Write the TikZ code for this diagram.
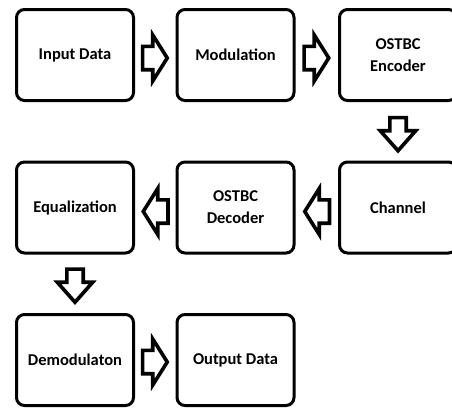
\documentclass[tikz,border=0pt]{standalone}
\usepackage{fontspec}
\setmainfont{Carlito}
\usetikzlibrary{calc}
\tikzset{
  blockbox/.style={draw=black, line width=3pt, rounded corners=8pt, fill=white,
    minimum width=117pt, minimum height=91pt, inner sep=0pt, align=center,
    font=\bfseries\fontsize{16.5}{22}\selectfont},
  arrowline/.style={draw=black, line width=3.6pt, line join=miter, fill=white},
  rarrow/.pic={\path[arrowline] (-12.7,-11.7) -- (-2.5,-11.7) -- (-2.5,-23) -- (12,0) -- (-2.5,23) -- (-2.5,11.7) -- (-12.7,11.7) -- cycle;},
  larrow/.pic={\path[arrowline] (12.7,-11.7) -- (2.5,-11.7) -- (2.5,-23) -- (-12,0) -- (2.5,23) -- (2.5,11.7) -- (12.7,11.7) -- cycle;},
  darrow/.pic={\path[arrowline] (-8.2,-16.7) -- (8.2,-16.7) -- (8.2,-3.5) -- (17.7,-3.5) -- (0,16.5) -- (-17.7,-3.5) -- (-8.2,-3.5) -- cycle;}
}
\begin{document}
\begin{tikzpicture}[x=1pt, y=-1pt]
\useasboundingbox (0,0) rectangle (452,407);
\clip (0,0) rectangle (452,407);
\fill[white] (0,0) rectangle (452,407);
\node[blockbox] (in)  at (75,55)    {Input Data};
\node[blockbox] (mod) at (235.5,55) {Modulation};
\node[blockbox] (enc) at (398,55)   {OSTBC\\Encoder};
\node[blockbox] (ch)  at (398,207.5) {Channel};
\node[blockbox] (dec) at (235.5,207.5) {OSTBC\\Decoder};
\node[blockbox] (eq)  at (75,207.5) {Equalization};
\node[blockbox] (dem) at (75,360)   {Demodulaton};
\node[blockbox] (out) at (235.5,360) {Output Data};
\path ($(in.east)!0.5!(mod.west)+(0,3)$) pic {rarrow};
\path ($(mod.east)!0.5!(enc.west)+(0,3)$) pic {rarrow};
\path ($(enc.south)!0.5!(ch.north)+(0,3)$) pic {darrow};
\path ($(ch.west)!0.5!(dec.east)+(0,4)$) pic {larrow};
\path ($(dec.west)!0.5!(eq.east)+(0,4)$) pic {larrow};
\path ($(eq.south)!0.5!(dem.north)+(0,2)$) pic {darrow};
\path ($(dem.east)!0.5!(out.west)+(0,2)$) pic {rarrow};
\end{tikzpicture}
\end{document}
